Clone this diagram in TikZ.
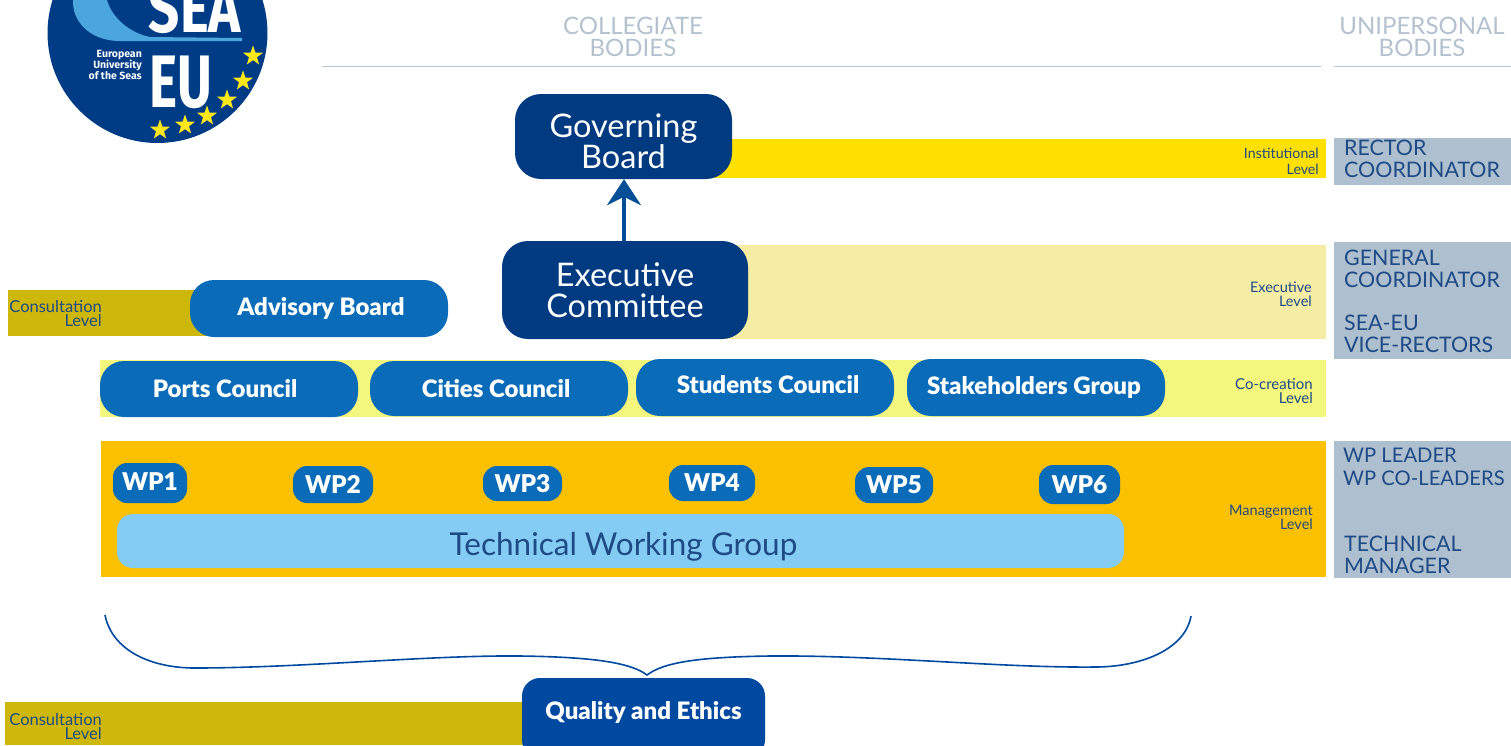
\documentclass[tikz,border=0pt]{standalone}
\usepackage{fontspec}
\setmainfont{Lato}
\newfontfamily\logofont{Fira Sans}
\newfontfamily\heavyfont{Lato Black}
\usetikzlibrary{shapes.geometric,arrows.meta}
\definecolor{navy}{HTML}{003A80}
\definecolor{midblue}{HTML}{0A6CB8}
\definecolor{qblue}{HTML}{0049A0}
\definecolor{sky}{HTML}{85CCF5}
\definecolor{inktxt}{HTML}{1E4A85}
\definecolor{headtxt}{HTML}{B4C2D0}
\definecolor{graybox}{HTML}{AEBFCF}
\definecolor{rulecol}{HTML}{B8C8D8}
\definecolor{instband}{HTML}{FFE000}
\definecolor{execband}{HTML}{F6EDA4}
\definecolor{cocband}{HTML}{F4F77E}
\definecolor{mgmtband}{HTML}{FBC000}
\definecolor{consband}{HTML}{CDB70B}
\definecolor{logoblue}{HTML}{003C86}
\definecolor{wave}{HTML}{4BA6DE}
\definecolor{starcol}{HTML}{FFE81A}
\newcommand{\shifted}[3]{\kern#1pt\raisebox{#2pt}{#3}}
\tikzset{
 x=1pt,y=-1pt,
 band/.style={fill=#1,draw=none},
 bigbox/.style={fill=navy,text=white,rounded corners=26pt,inner sep=0pt,align=center,font=\fontsize{32.5}{30.5}\selectfont},
 midbox/.style={fill=midblue,text=white,rounded corners=24pt,inner sep=0pt,font=\fontsize{24}{24}\heavyfont\selectfont},
 wpbox/.style={fill=midblue,text=white,rounded corners=14pt,inner sep=0pt,font=\fontsize{24.5}{26}\heavyfont\selectfont},
 levellab/.style={text=inktxt,align=right,inner sep=0pt,anchor=east,font=\fontsize{14.5}{14}\selectfont},
 conslab/.style={text=inktxt,align=right,inner sep=0pt,anchor=east,font=\fontsize{16.5}{14}\selectfont},
 graytxt/.style={text=inktxt,align=left,inner sep=0pt,anchor=north west,font=\fontsize{21.4}{22}\selectfont},
 headlab/.style={text=headtxt,align=center,inner sep=0pt,font=\fontsize{24}{22}\selectfont},
 logostar/.style={star,star points=5,star point ratio=2.5,fill=starcol,inner sep=0pt,minimum size=21pt},
}
\begin{document}
\begin{tikzpicture}
\useasboundingbox (0,0) rectangle (1511,745);
\clip (0,0) rectangle (1511,745);
% logo
\fill[logoblue] (157.5,33) circle[radius=110];
\fill[wave] (73,0) .. controls (72,20) and (88,40) .. (118,41) -- (242,41) -- (242,38) -- (150,37) .. controls (130,33) and (112,18) .. (107,0) -- cycle;
\node[inner sep=0pt,text=white,anchor=east,align=right,font=\logofont\bfseries\fontsize{10.5}{11}\selectfont] (logotxt) at (142,65) {European\\University\\of the Seas};
\node[inner sep=0pt,text=white,anchor=base] (sea) at (195,32) {\logofont\bfseries\fontsize{62}{62}\selectfont\scalebox{0.88}[1.1]{SEA}};
\node[inner sep=0pt,text=white,anchor=base] (eu) at (181,107) {\logofont\bfseries\fontsize{62}{62}\selectfont\scalebox{0.86}[1.2]{EU}};
\foreach \i/\p in {1/{253,56},2/{243,81},3/{227,100},4/{207,116},5/{185,125},6/{160,130}}
  \node[logostar] (s\i) at (\p) {};
% headings and rules
\node[headlab] (hc) at (633,37) {COLLEGIATE\\BODIES};
\node[headlab] (hu) at (1422,37) {UNIPERSONAL\\BODIES};
\draw[rulecol,line width=1.3pt] (322,66.5) -- (1321,66.5);
\draw[rulecol,line width=1.3pt] (1334,66.5) -- (1511,66.5);
% bands
\fill[band=instband] (700,139) rectangle (1326,178);
\fill[band=execband] (720,245) rectangle (1326,339);
\fill[band=cocband] (100,360) rectangle (1326,417);
\fill[band=mgmtband] (101,441) rectangle (1326,577);
\fill[band=consband] (8,290) rectangle (215,336);
\fill[band=consband] (5,702) rectangle (540,745);
% gray boxes
\fill[graybox] (1334,138) rectangle (1511,185);
\fill[graybox] (1334,242) rectangle (1511,359);
\fill[graybox] (1334,441) rectangle (1511,578);
\node[graytxt] (g1) at (1344,140) {RECTOR\\COORDINATOR};
\node[graytxt] (g2) at (1344,250) {GENERAL\\COORDINATOR};
\node[graytxt] (g3) at (1344,315) {SEA-EU\\VICE-RECTORS};
\node[graytxt,font=\fontsize{20.2}{22.5}\selectfont] (g4) at (1343,448) {WP LEADER\\WP CO-LEADERS};
\node[graytxt] (g5) at (1344,536) {TECHNICAL\\MANAGER};
% level labels
\node[levellab,font=\fontsize{14.2}{16}\selectfont] (l1) at (1319,161.5) {Institutional\\Level};
\node[levellab] (l2) at (1312,294.5) {Executive\\Level};
\node[levellab,font=\fontsize{15}{14}\selectfont] (l3) at (1313,391) {Co-creation\\Level};
\node[levellab] (l4) at (1313,517) {Management\\Level};
\node[conslab] (l5) at (102,313) {Consultation\\Level};
\node[conslab] (l6) at (102,726) {Consultation\\Level};
% big boxes
\node[bigbox,minimum width=217pt,minimum height=85pt] (gov) at (623.5,136.5) {\rule{0pt}{33pt}Governing\\Board};
\node[bigbox,minimum width=246pt,minimum height=98pt] (exec) at (625,290) {\rule{0pt}{24pt}Executive\\Committee};
\node[midbox,minimum width=258pt,minimum height=57pt] (adv) at (319,308.5) {\shifted{4}{4}{Advisory Board}};
\node[midbox,minimum width=258pt,minimum height=56pt] (ports) at (229,389) {\shifted{-8}{0}{Ports Council}};
\node[midbox,minimum width=258pt,minimum height=55pt] (cities) at (499,388.5) {\shifted{-6}{0}{Cities Council}};
\node[midbox,minimum width=258pt,minimum height=57pt] (stud) at (765,387.5) {\shifted{6}{7}{Students Council}};
\node[midbox,minimum width=258pt,minimum height=57pt] (stake) at (1036,387.5) {\shifted{-4}{1}{Stakeholders Group}};
% WPs
\node[wpbox,minimum width=74pt,minimum height=40pt] (wp1) at (150,483) {\raisebox{2pt}{WP1}};
\node[wpbox,minimum width=80pt,minimum height=37pt] (wp2) at (333,484.5) {WP2};
\node[wpbox,minimum width=79pt,minimum height=35pt] (wp3) at (522.5,483.5) {WP3};
\node[wpbox,minimum width=86pt,minimum height=36pt] (wp4) at (712,483) {WP4};
\node[wpbox,minimum width=78pt,minimum height=36pt] (wp5) at (894,485) {WP5};
\node[wpbox,minimum width=81pt,minimum height=39pt] (wp6) at (1079.5,484.5) {WP6};
\node[fill=sky,text=inktxt,rounded corners=16pt,inner sep=0pt,minimum width=1007pt,minimum height=54pt,font=\fontsize{31.5}{36}\selectfont] (twg) at (620.5,541) {\kern6pt\rule{0pt}{34pt}Technical Working Group};
% quality
\node[fill=qblue,text=white,rounded corners=18pt,inner sep=0pt,minimum width=243pt,minimum height=80pt,font=\fontsize{24}{24}\heavyfont\selectfont] (qual) at (643.5,718) {\raisebox{16pt}{Quality and Ethics}};
% connectors
\draw[navy!60!midblue,line width=4pt,-{Stealth[length=26pt,width=34pt]}] (exec.north) ++(-1,0) -- (gov.south -| 624,0);
\coordinate (bl) at (105,615);
\coordinate (br) at (1191,616);
\draw[qblue,line width=1.6pt] (bl) .. controls (112,650) and (150,668) .. (195,668)
  .. controls (300,668) and (430,655) .. (520,656)
  .. controls (590,657) and (630,662) .. (647,675)
  .. controls (664,662) and (700,657) .. (770,656)
  .. controls (880,655) and (1000,668) .. (1095,667)
  .. controls (1140,667) and (1185,650) .. (br);
\end{tikzpicture}
\end{document}
